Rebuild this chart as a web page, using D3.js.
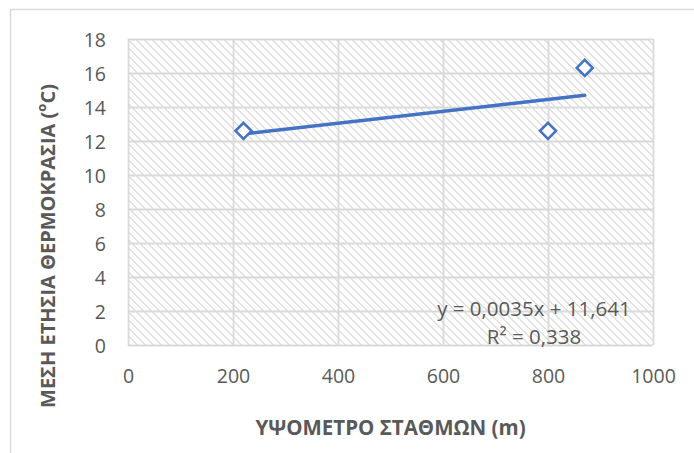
<!DOCTYPE html>
<html>
<head>
<meta charset="utf-8">
<script src="https://cdn.jsdelivr.net/npm/d3@7"></script>
<style>
  html, body { margin: 0; padding: 0; background: #fff; }
  svg { display: block; }
  text { font-family: "Open Sans", "Noto Sans", sans-serif; }
</style>
</head>
<body>
<svg id="chart" width="694" height="453"></svg>
<script>
// Station altitude (m) and mean annual temperature (°C)
const altitudes = [220, 800, 870];
const meanTemps = [12.6, 12.6, 16.3];

// Axis ticks
const xTicks = [0, 200, 400, 600, 800, 1000];
const yTicks = [0, 2, 4, 6, 8, 10, 12, 14, 16, 18];

// Linear trend line coefficients and labels
const trendSlope = 0.0035;
const trendIntercept = 11.641;
const trendLabels = ["y = 0,0035x + 11,641", "R² = 0,338"];

const xTitle = "ΥΨΟΜΕΤΡΟ ΣΤΑΘΜΩΝ (m)";
const yTitle = "ΜΕΣΗ ΕΤΗΣΙΑ ΘΕΡΜΟΚΡΑΣΙΑ (";

const svg = d3.select("#chart");
const plot = { left: 128, right: 653, top: 39, bottom: 345 };
const blue = "#4472C4";
const grid = "#d9d9d9";
const hatchGray = "#e0e0e0";
const textGray = "#595959";

const x = d3.scaleLinear().domain([0, 1000]).range([plot.left, plot.right]);
const y = d3.scaleLinear().domain([0, 18]).range([plot.bottom, plot.top]);

// Outer chart frame
svg.append("rect")
  .attr("x", 10.5).attr("y", 9.5)
  .attr("width", 700).attr("height", 460)
  .attr("fill", "#fff").attr("stroke", grid).attr("stroke-width", 1.5);

// Diagonal hatch fill for the plot area
const defs = svg.append("defs");
const pat = defs.append("pattern")
  .attr("id", "hatch").attr("patternUnits", "userSpaceOnUse")
  .attr("width", 8).attr("height", 8);
pat.append("rect").attr("width", 8).attr("height", 8).attr("fill", "#fff");
d3.range(8).forEach(i => {
  pat.append("rect")
    .attr("x", i).attr("y", i).attr("width", 2).attr("height", 1)
    .attr("fill", hatchGray).attr("shape-rendering", "crispEdges");
});
pat.append("rect").attr("x", 0).attr("y", 7).attr("width", 1).attr("height", 1)
  .attr("fill", hatchGray).attr("shape-rendering", "crispEdges");

svg.append("rect")
  .attr("x", plot.left).attr("y", plot.top)
  .attr("width", plot.right - plot.left).attr("height", plot.bottom - plot.top)
  .attr("fill", "url(#hatch)");

// Gridlines
const gx = svg.append("g")
  .attr("transform", `translate(0,${plot.bottom})`)
  .call(d3.axisBottom(x).tickValues(xTicks).tickSize(-(plot.bottom - plot.top)).tickFormat(""));
const gy = svg.append("g")
  .attr("transform", `translate(${plot.left},0)`)
  .call(d3.axisLeft(y).tickValues(yTicks).tickSize(-(plot.right - plot.left)).tickFormat(""));
[gx, gy].forEach(g => {
  g.select(".domain").remove();
  g.selectAll("line").attr("stroke", grid).attr("stroke-width", 1.8);
});

// Tick labels
const xl = svg.append("g")
  .attr("transform", `translate(0,${plot.bottom})`)
  .call(d3.axisBottom(x).tickValues(xTicks).tickSize(0).tickPadding(0).tickFormat(d3.format("d")));
xl.select(".domain").remove();
xl.selectAll("text")
  .attr("y", 38).attr("dy", null)
  .attr("fill", textGray).style("font-size", "19.5px").style("font-family", "'Open Sans', sans-serif");

const yl = svg.append("g")
  .attr("transform", `translate(106,0)`)
  .call(d3.axisLeft(y).tickValues(yTicks).tickSize(0).tickPadding(0).tickFormat(d3.format("d")));
yl.select(".domain").remove();
yl.selectAll("text")
  .attr("x", 0).attr("dy", "0.36em")
  .attr("fill", textGray).style("font-size", "19.5px").style("font-family", "'Open Sans', sans-serif");

// Trend line across the data range
const xMin = d3.min(altitudes), xMax = d3.max(altitudes);
svg.append("line")
  .attr("x1", x(xMin)).attr("y1", y(trendSlope * xMin + trendIntercept))
  .attr("x2", x(xMax)).attr("y2", y(trendSlope * xMax + trendIntercept))
  .attr("stroke", blue).attr("stroke-width", 3.5).attr("stroke-linecap", "round");

// Diamond markers
const r = 8;
const diamond = `M0,${-r}L${r},0L0,${r}L${-r},0Z`;
svg.append("g").selectAll("path")
  .data(altitudes.map((a, i) => ({ a, t: meanTemps[i] })))
  .join("path")
  .attr("d", diamond)
  .attr("transform", d => `translate(${x(d.a)},${y(d.t)})`)
  .attr("fill", "#fff").attr("stroke", blue).attr("stroke-width", 2.6);

// Trend equation label
const eq = svg.append("text")
  .attr("text-anchor", "middle").attr("fill", textGray)
  .style("font-size", "20.5px");
eq.append("tspan").attr("x", 534).attr("y", 316).text(trendLabels[0]);
eq.append("tspan").attr("x", 534).attr("y", 344).text(trendLabels[1]);

// Axis titles
svg.append("text")
  .attr("x", (plot.left + plot.right) / 2).attr("y", 435)
  .attr("text-anchor", "middle").attr("fill", textGray)
  .style("font-size", "20.5px").style("font-weight", "bold")
  .text(xTitle);

const yt = svg.append("text")
  .attr("transform", "translate(55,246) rotate(-90)")
  .attr("text-anchor", "middle").attr("fill", textGray)
  .style("font-size", "20px").style("font-weight", "bold");
yt.append("tspan").text(yTitle);
yt.append("tspan").attr("baseline-shift", "super").style("font-size", "13px").text("o");
yt.append("tspan").text("C)");
</script>
</body>
</html>
